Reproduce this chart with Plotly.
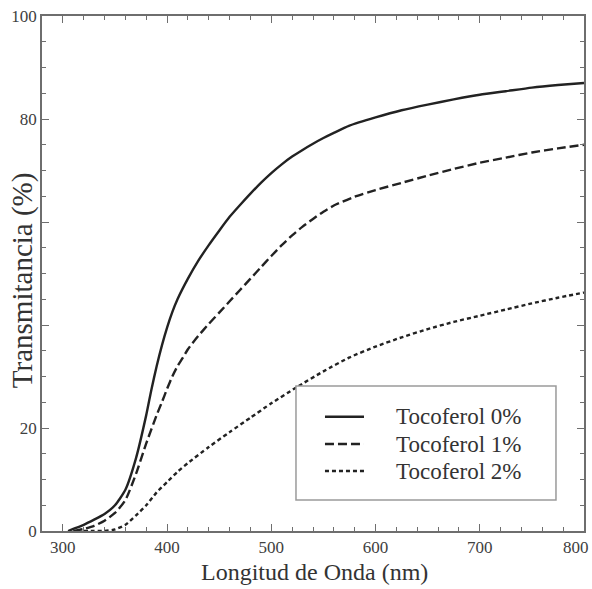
import plotly.graph_objects as go

# Wavelength (nm) and transmittance (%)
wl_0 = [305, 310, 320, 330, 340, 350, 360, 370, 380, 385, 390, 395, 400, 405, 410, 420, 430, 440, 450,
        460, 470, 480, 490, 500, 510, 520, 530, 540, 550, 560, 575, 600, 625, 650, 675, 700,
        725, 750, 775, 800]
t_0 = [0, 0.4, 1.2, 2.2, 3.3, 5.0, 8.0, 14.0, 22.5, 27.5, 32.0, 36.0, 39.5, 42.5, 45.0, 49.0, 52.5, 55.5, 58.3,
       61.0, 63.3, 65.5, 67.6, 69.5, 71.2, 72.7, 74.0, 75.2, 76.3, 77.3, 78.7, 80.3, 81.7, 82.8,
       83.8, 84.7, 85.4, 86.1, 86.6, 87.0]

wl_1 = [310, 320, 330, 340, 350, 360, 370, 380, 390, 395, 400, 405, 410, 415, 420, 430, 440, 450, 460, 470,
        480, 490, 500, 510, 520, 530, 540, 550, 560, 580, 600, 625, 650, 675, 700, 725, 750, 775, 800]
t_1 = [0, 0.4, 1.0, 2.0, 3.5, 6.0, 11.0, 17.0, 22.5, 25.0, 27.6, 30.0, 32.0, 33.6, 35.3, 37.9, 40.2, 42.4, 44.6, 46.8,
       49.0, 51.2, 53.4, 55.5, 57.4, 59.1, 60.6, 62.0, 63.2, 64.9, 66.2, 67.6, 69.0, 70.3, 71.5,
       72.5, 73.5, 74.3, 75.0]

wl_2 = [320, 330, 340, 350, 360, 370, 380, 390, 400, 410, 420, 440, 460, 480, 500, 525, 550,
        575, 600, 625, 650, 675, 700, 725, 750, 775, 800]
t_2 = [0, 0, 0, 0.3, 1.2, 3.0, 5.0, 7.5, 9.5, 11.5, 13.2, 16.3, 19.2, 22.0, 24.8, 28.0, 31.0,
       33.7, 35.8, 37.6, 39.2, 40.6, 41.8, 43.0, 44.2, 45.3, 46.3]

series_names = ["Tocoferol 0%", "Tocoferol 1%", "Tocoferol 2%"]
series_dash = ["solid", "9px,4px", "4px,3px"]
x_ticks = [300, 400, 500, 600, 700, 800]
x_ticktext = ["300", "400", "500", "600", "700", ""]   # last label drawn separately, kept inside the page
x_last_label = "800"
y_ticks = [0, 20, 40, 60, 80, 100]
y_ticktext = ["0", "20", "", "", "80", "100"]
x_title = "Longitud de Onda (nm)"
y_title = "Transmitancia (%)"

FONT = "Liberation Serif"
LINE_COLOR = "#222222"
AX_COLOR = "#6e6e6e"
TICK_FONT = dict(family=FONT, size=17, color="#404040")

fig = go.Figure()
for (xs, ys), name, dash in zip([(wl_0, t_0), (wl_1, t_1), (wl_2, t_2)], series_names, series_dash):
    fig.add_trace(go.Scatter(
        x=xs, y=ys, mode="lines", name=name, showlegend=False,
        line=dict(color=LINE_COLOR, width=2.4, dash=dash, shape="spline", smoothing=0.6),
    ))

axis_common = dict(
    showline=True, linecolor=AX_COLOR, linewidth=1.5, mirror="ticks",
    ticks="inside", ticklen=7, tickwidth=1, tickcolor=AX_COLOR,
    showgrid=False, zeroline=False, automargin=False, ticklabeloverflow="allow",
    tickfont=TICK_FONT,
)

fig.update_xaxes(
    range=[280, 800], tickvals=x_ticks, ticktext=x_ticktext,
    minor=dict(ticks="inside", dtick=20, tick0=280, ticklen=4, tickcolor=AX_COLOR, showgrid=False),
    **axis_common,
)
fig.update_yaxes(
    range=[0, 100], tickvals=y_ticks, ticktext=y_ticktext,
    minor=dict(ticks="inside", dtick=5, tick0=0, ticklen=4, tickcolor=AX_COLOR, showgrid=False),
    **axis_common,
)

# Last x tick label, right-aligned to stay inside the page (as in the reference)
fig.add_annotation(text=x_last_label, xref="x", yref="paper", x=x_ticks[-1], y=0,
                   xanchor="right", yanchor="middle", xshift=7, yshift=-16, showarrow=False,
                   font=TICK_FONT)

# Axis titles
fig.add_annotation(text=x_title, xref="paper", yref="paper", x=0.503, y=-0.08,
                   xanchor="center", yanchor="middle", showarrow=False,
                   font=dict(family=FONT, size=24, color="#333333"))
fig.add_annotation(text=y_title, xref="paper", yref="paper", x=-0.037, y=0.487,
                   xanchor="center", yanchor="middle", showarrow=False, textangle=-90,
                   font=dict(family=FONT, size=29, color="#333333"))

# Legend (box, line samples, labels)
leg_x0, leg_x1, leg_y0, leg_y1 = 0.4686, 0.9483, 0.0602, 0.2816
fig.add_shape(type="rect", xref="paper", yref="paper", x0=leg_x0, x1=leg_x1, y0=leg_y0, y1=leg_y1,
              line=dict(color="#9a9a9a", width=1.5), fillcolor="white", layer="above")
row_y = [0.2219, 0.1689, 0.1165]
for name, dash, ry in zip(series_names, series_dash, row_y):
    fig.add_shape(type="line", xref="paper", yref="paper", x0=0.5221, x1=0.5941, y0=ry, y1=ry,
                  line=dict(color=LINE_COLOR, width=2.4, dash=dash), layer="above")
    fig.add_annotation(text=name, xref="paper", yref="paper", x=0.6494, y=ry,
                       xanchor="left", yanchor="middle", showarrow=False,
                       font=dict(family=FONT, size=23, color="#333333"))

fig.update_layout(
    width=592, height=589,
    margin=dict(l=42, r=8, t=16, b=58),
    paper_bgcolor="white", plot_bgcolor="white",
    font=dict(family=FONT, color="#333333"),
    showlegend=False,
)

# Remove the default 8px page margin so the figure fills the window exactly
fig.write_html("out.html", config={"displayModeBar": False},
               post_script="document.body.style.margin='0';document.body.style.overflow='hidden';")
